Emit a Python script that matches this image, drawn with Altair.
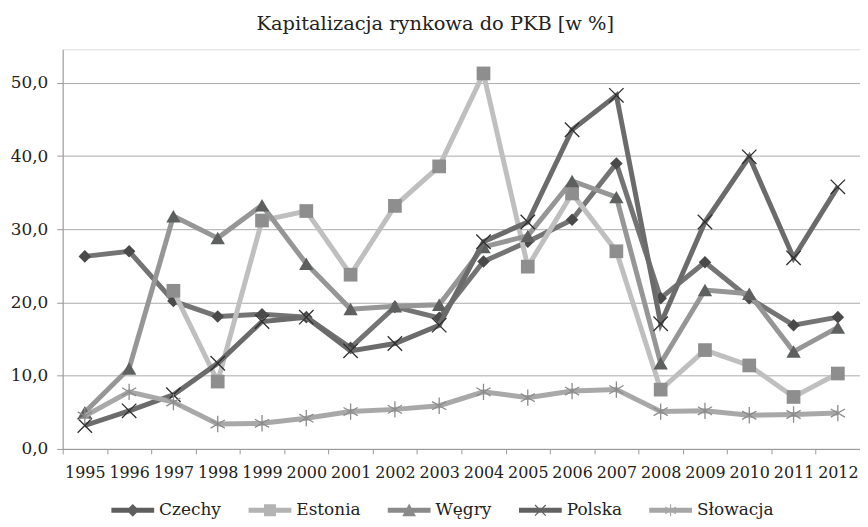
import altair as alt
import pandas as pd

years = [str(y) for y in range(1995, 2013)]
series_names = ["Czechy", "Estonia", "Węgry", "Polska", "Słowacja"]

czechy = [26.3, 27.0, 20.2, 18.1, 18.4, 18.0, 13.8, 19.4, 17.9, 25.6, 28.3, 31.3, 39.0, 20.6, 25.5, 20.6, 16.9, 18.0]
estonia = [None, None, 21.6, 9.2, 31.2, 32.5, 23.8, 33.2, 38.6, 51.3, 24.9, 34.9, 27.0, 8.1, 13.5, 11.4, 7.1, 10.3]
wegry = [5.0, 11.0, 31.8, 28.8, 33.3, 25.3, 19.1, 19.5, 19.7, 27.6, 29.1, 36.6, 34.4, 11.7, 21.7, 21.2, 13.3, 16.6]
polska = [3.2, 5.2, 7.4, 11.7, 17.4, 18.0, 13.4, 14.4, 16.9, 28.3, 31.0, 43.6, 48.3, 17.1, 31.0, 39.9, 26.1, 35.8]
slowacja = [4.5, 7.8, 6.4, 3.4, 3.5, 4.2, 5.1, 5.4, 5.9, 7.8, 7.0, 7.9, 8.1, 5.1, 5.2, 4.6, 4.7, 4.9]

values = [czechy, estonia, wegry, polska, slowacja]

line_colors = ["#747474", "#bfbfbf", "#969696", "#6b6b6b", "#a8a8a8"]
marker_colors = ["#4a4a4a", "#8e8e8e", "#5e6060", "#2e2e2e", "#8c8c8c"]
legend_colors = ["#5e5e5e", "#b3b3b3", "#8a8a8a", "#626262", "#a6a6a6"]

rows = []
for name, vals in zip(series_names, values):
    for yr, v in zip(years, vals):
        if v is not None:
            rows.append({"rok": yr, "seria": name, "wartosc": v})
df = pd.DataFrame(rows)

FONT = "DejaVu Serif"


def seg(x1, y1, x2, y2, t):
    dx, dy = x2 - x1, y2 - y1
    L = (dx * dx + dy * dy) ** 0.5
    nx, ny = -dy / L * t / 2, dx / L * t / 2
    pts = [(x1 + nx, y1 + ny), (x2 + nx, y2 + ny), (x2 - nx, y2 - ny), (x1 - nx, y1 - ny)]
    return "M" + "L".join(f"{x:.3f},{y:.3f}" for x, y in pts) + "Z"


line_part = seg(-1, 0, 1, 0, 0.24)
leg_shapes = [
    line_part + "M0,0.3L0.3,0L0,-0.3L-0.3,0Z",
    line_part + "M-0.28,0.28L0.28,0.28L0.28,-0.28L-0.28,-0.28Z",
    line_part + "M0.32,0.28L0,-0.32L-0.32,0.28Z",
    line_part + seg(-0.25, -0.25, 0.25, 0.25, 0.06) + seg(-0.25, 0.25, 0.25, -0.25, 0.06),
    line_part + seg(0, -0.28, 0, 0.28, 0.05) + seg(-0.25, -0.16, 0.25, 0.16, 0.05) + seg(-0.25, 0.16, 0.25, -0.16, 0.05),
]

x_enc = alt.X(
    "rok:O",
    sort=years,
    scale=alt.Scale(type="band", domain=years, paddingInner=0, paddingOuter=0),
    axis=alt.Axis(
        title=None, labelAngle=0, tickBand="extent", grid=False, tickSize=5,
        labelPadding=11, labelFont=FONT, labelFontSize=16, labelColor="#222222",
        domainColor="#999999", tickColor="#999999", labelOverlap=False,
    ),
)
y_enc = alt.Y(
    "wartosc:Q",
    scale=alt.Scale(domain=[0, 54.6], nice=False, zero=True),
    axis=alt.Axis(
        title=None, values=[0, 10, 20, 30, 40, 50],
        labelExpr="replace(format(datum.value, '.1f'), '.', ',')",
        grid=True, gridColor="#aaaaaa", gridWidth=1, tickSize=6, labelPadding=9,
        labelFont=FONT, labelFontSize=17, labelColor="#222222",
        domainColor="#999999", tickColor="#999999",
    ),
)

marker_specs = [
    dict(shape="diamond", size=160, filled=True),
    dict(shape="square", size=190, filled=True),
    dict(shape="triangle-up", size=210, filled=True),
    dict(shape="M-1,-1L1,1M-1,1L1,-1", size=210, filled=False, strokeWidth=1.3),
    dict(shape="M0,-1L0,1M-0.87,-0.5L0.87,0.5M-0.87,0.5L0.87,-0.5", size=270, filled=False, strokeWidth=1.3),
]

base = alt.Chart(df)
layers = []
for i, name in enumerate(series_names):
    sub = base.transform_filter(alt.datum.seria == name)
    layers.append(
        sub.mark_line(color=line_colors[i], strokeWidth=5).encode(x=x_enc, y=y_enc)
    )
    ms = marker_specs[i]
    if ms["filled"]:
        pt = sub.mark_point(shape=ms["shape"], size=ms["size"], filled=True,
                            fill=marker_colors[i], opacity=1, strokeWidth=0)
    else:
        pt = sub.mark_point(shape=ms["shape"], size=ms["size"], filled=False,
                            stroke=marker_colors[i], opacity=1, strokeWidth=ms["strokeWidth"])
    layers.append(pt.encode(x=x_enc, y=y_enc))

legend_def = alt.Legend(
    title=None, orient="bottom", offset=-41, direction="horizontal",
    labelFont=FONT, labelFontSize=17, labelColor="#222222",
    symbolSize=1849, symbolOpacity=1, symbolStrokeWidth=0, labelOffset=5,
    columnPadding=27, padding=49,
)
legend_layer = base.mark_point(filled=True, opacity=0, size=10).encode(
    x=x_enc, y=y_enc,
    shape=alt.Shape("seria:N", sort=series_names,
                    scale=alt.Scale(domain=series_names, range=leg_shapes), legend=legend_def),
    fill=alt.Fill("seria:N", sort=series_names,
                  scale=alt.Scale(domain=series_names, range=legend_colors), legend=legend_def),
)

chart = alt.layer(legend_layer, *layers).properties(
    width=802,
    height=402,
    autosize=alt.AutoSizeParams(type="none"),
    padding={"left": 55, "top": 40, "right": 0, "bottom": 69},
    title=alt.Title(
        "Kapitalizacja rynkowa do PKB [w %]", font=FONT, fontSize=19.5,
        fontWeight="normal", color="#222222", anchor="middle", frame="bounds", offset=15,
    ),
).configure_view(stroke=None).configure(background="white")

chart.save("out.html", embed_options={"renderer": "svg", "actions": False})
